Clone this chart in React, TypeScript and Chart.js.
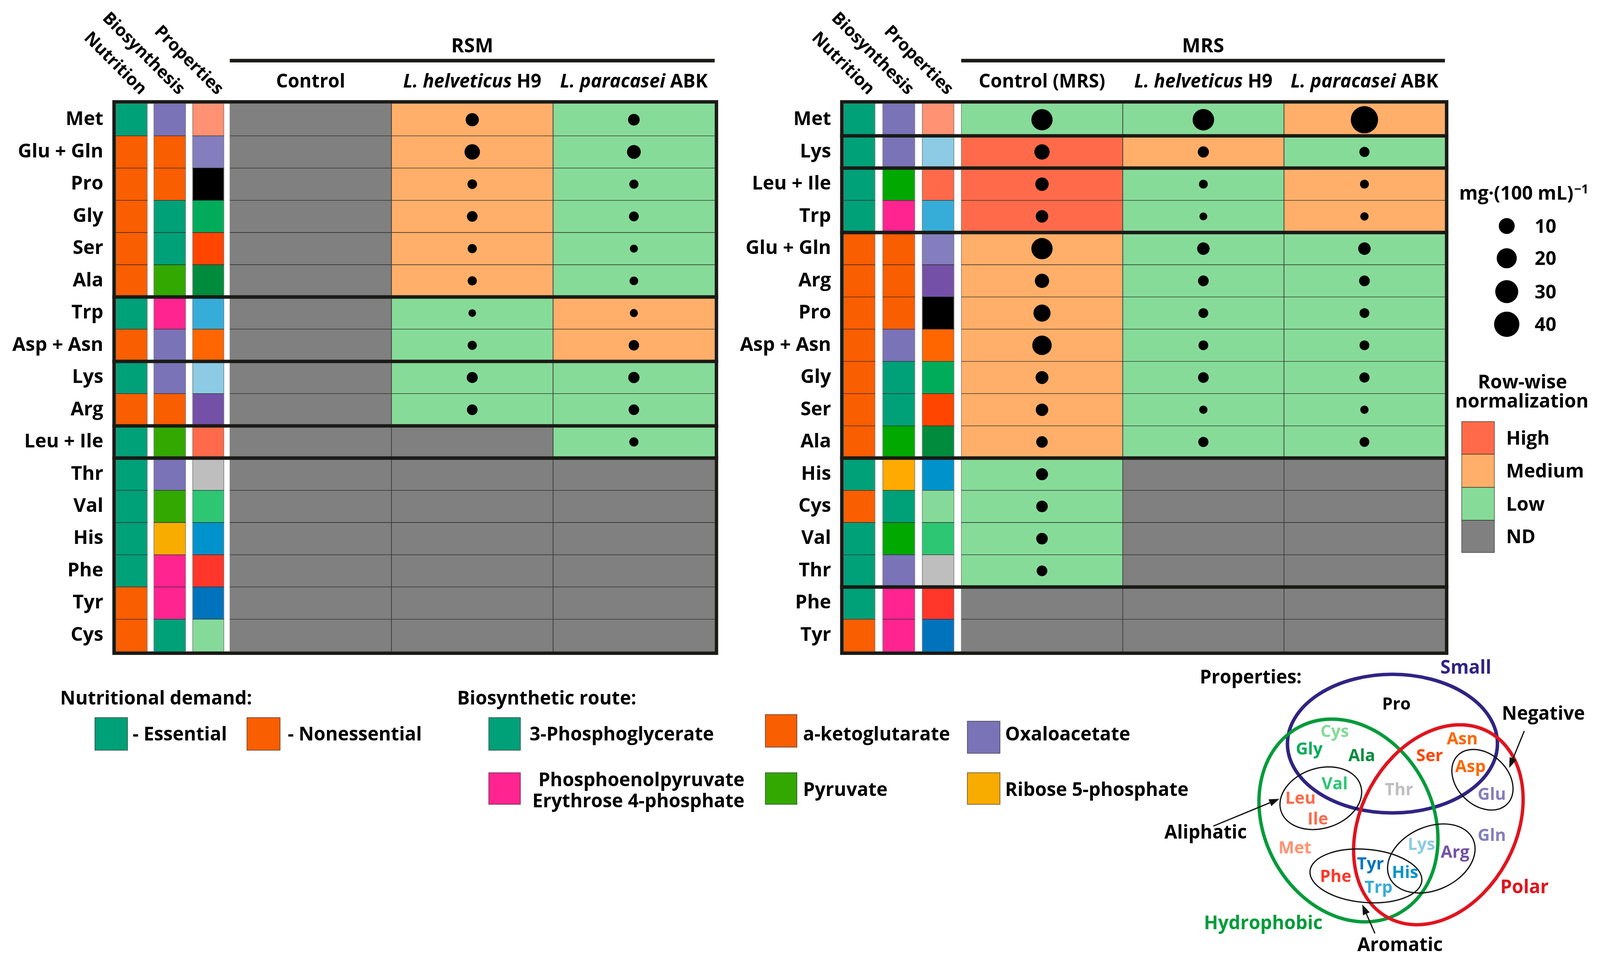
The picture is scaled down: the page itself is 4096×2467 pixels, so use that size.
import React, { useEffect, useRef } from 'react';
import { Chart, registerables } from 'chart.js';

Chart.register(...registerables);

const W = 4096;
const H = 2467;
const S = W / 1568; // px per layout unit
const FONT = '"Open Sans", "Noto Sans", "DejaVu Sans", sans-serif';
const u = (v: number) => v * S;

// ---------------- categories ----------------
const RSM_ROWS = ['Met', 'Glu + Gln', 'Pro', 'Gly', 'Ser', 'Ala', 'Trp', 'Asp + Asn', 'Lys', 'Arg', 'Leu + Ile', 'Thr', 'Val', 'His', 'Phe', 'Tyr', 'Cys'];
const MRS_ROWS = ['Met', 'Lys', 'Leu + Ile', 'Trp', 'Glu + Gln', 'Arg', 'Pro', 'Asp + Asn', 'Gly', 'Ser', 'Ala', 'His', 'Cys', 'Val', 'Thr', 'Phe', 'Tyr'];
const RSM_GROUP_STARTS = [6, 8, 10, 11];
const MRS_GROUP_STARTS = [1, 2, 4, 11, 15];
const ANNOTATION_TITLES = ['Nutrition', 'Biosynthesis', 'Properties'];
const RSM_COLUMN_TITLES = [['', 'Control'], ['L. helveticus ', 'H9'], ['L. paracasei ', 'ABK']];
const MRS_COLUMN_TITLES = [['', 'Control (MRS)'], ['L. helveticus ', 'H9'], ['L. paracasei ', 'ABK']];

// ---------------- series: row-wise normalization level ----------------
const RSM_CONTROL_LEVEL = ['ND', 'ND', 'ND', 'ND', 'ND', 'ND', 'ND', 'ND', 'ND', 'ND', 'ND', 'ND', 'ND', 'ND', 'ND', 'ND', 'ND'];
const RSM_H9_LEVEL = ['Medium', 'Medium', 'Medium', 'Medium', 'Medium', 'Medium', 'Low', 'Low', 'Low', 'Low', 'ND', 'ND', 'ND', 'ND', 'ND', 'ND', 'ND'];
const RSM_ABK_LEVEL = ['Low', 'Low', 'Low', 'Low', 'Low', 'Low', 'Medium', 'Medium', 'Low', 'Low', 'Low', 'ND', 'ND', 'ND', 'ND', 'ND', 'ND'];
const MRS_CONTROL_LEVEL = ['Low', 'High', 'High', 'High', 'Medium', 'Medium', 'Medium', 'Medium', 'Medium', 'Medium', 'Medium', 'Low', 'Low', 'Low', 'Low', 'ND', 'ND'];
const MRS_H9_LEVEL = ['Low', 'Medium', 'Low', 'Low', 'Low', 'Low', 'Low', 'Low', 'Low', 'Low', 'Low', 'ND', 'ND', 'ND', 'ND', 'ND', 'ND'];
const MRS_ABK_LEVEL = ['Medium', 'Low', 'Medium', 'Medium', 'Low', 'Low', 'Low', 'Low', 'Low', 'Low', 'Low', 'ND', 'ND', 'ND', 'ND', 'ND', 'ND'];

// ---------------- series: concentration, mg·(100 mL)^-1 ----------------
const RSM_CONTROL_MG = [null, null, null, null, null, null, null, null, null, null, null, null, null, null, null, null, null];
const RSM_H9_MG = [5.7, 9.1, 2.2, 3.0, 1.9, 1.9, 1.1, 1.9, 3.3, 3.0, null, null, null, null, null, null, null];
const RSM_ABK_MG = [3.9, 6.5, 1.9, 2.3, 1.3, 1.6, 1.3, 2.8, 3.5, 2.9, 1.9, null, null, null, null, null, null];
const MRS_CONTROL_MG = [23.7, 8.8, 5.9, 4.8, 23.7, 7.2, 12.3, 18.1, 5.3, 4.8, 3.8, 4.3, 3.8, 3.8, 3.0, null, null];
const MRS_H9_MG = [24.5, 3.4, 1.7, 1.2, 4.8, 3.0, 2.3, 2.3, 3.0, 1.4, 2.6, null, null, null, null, null, null];
const MRS_ABK_MG = [50.1, 2.6, 1.7, 1.4, 4.8, 3.0, 2.3, 2.3, 2.6, 1.4, 2.3, null, null, null, null, null, null];

// ---------------- annotations ----------------
const NUTRITION: Record<string, string> = {
  Met: 'E', 'Glu + Gln': 'N', Pro: 'N', Gly: 'N', Ser: 'N', Ala: 'N', Trp: 'E', 'Asp + Asn': 'N', Lys: 'E',
  Arg: 'N', 'Leu + Ile': 'E', Thr: 'E', Val: 'E', His: 'E', Phe: 'E', Tyr: 'N', Cys: 'N',
};
const BIOSYNTHESIS: Record<string, string> = {
  Met: 'oxa', 'Glu + Gln': 'akg', Pro: 'akg', Gly: '3pg', Ser: '3pg', Ala: 'pyr', Trp: 'pep', 'Asp + Asn': 'oxa',
  Lys: 'oxa', Arg: 'akg', 'Leu + Ile': 'pyr', Thr: 'oxa', Val: 'pyr', His: 'r5p', Phe: 'pep', Tyr: 'pep', Cys: '3pg',
};
const NUTRITION_LEGEND = [['E', '- Essential'], ['N', '- Nonessential']];
const ROUTE_LEGEND: [string, string[]][] = [
  ['3pg', ['3-Phosphoglycerate']], ['akg', ['a-ketoglutarate']], ['oxa', ['Oxaloacetate']],
  ['pep', ['Phosphoenolpyruvate', 'Erythrose 4-phosphate']], ['pyr', ['Pyruvate']], ['r5p', ['Ribose 5-phosphate']],
];
const SIZE_LEGEND = [10, 20, 30, 40];
const LEVEL_LEGEND = ['High', 'Medium', 'Low', 'ND'];

// ---------------- styles ----------------
const LEVEL_COLOR: Record<string, string> = { High: '#FF6B4A', Medium: '#FFAF69', Low: '#87DB98', ND: '#808080' };
const NUTRITION_COLOR: Record<string, string> = { E: '#00A078', N: '#F95E00' };
const ROUTE_COLOR: Record<string, string> = { '3pg': '#00A078', akg: '#F95E00', oxa: '#7A73B7', pep: '#FF2490', pyr: '#33A800', r5p: '#F8AC00' };
const ROUTE_COLOR_MRS: Record<string, string> = { ...ROUTE_COLOR, pyr: '#00A800', r5p: '#FFAA00' };
const AA_COLOR: Record<string, string> = {
  Met: '#FF9272', Glu: '#847EBE', Gln: '#847EBE', Pro: '#000000', Gly: '#00AC5A', Ser: '#FF4500', Ala: '#008C3C',
  Trp: '#36ADD9', Asp: '#FF6600', Asn: '#FF6600', Lys: '#8CCBE3', Arg: '#7451A6', Leu: '#FF6A4A', Ile: '#FF6A4A',
  Thr: '#BEBEBE', Val: '#2DC774', His: '#0093CB', Phe: '#FF3629', Tyr: '#0073BD', Cys: '#86DA99',
};
const FRAME = '#1A1A16';
const NAVY = '#2F2483';
const GREEN = '#009B3A';
const RED = '#E0141E';
const rOf = (v: number) => 20.4 * Math.cbrt(v / 10);

// ---------------- layout (reference units) ----------------
const BOX_TOP = 101.5;
const BOX_BOTTOM = 638.2;
const LEFT_COLS = [[113.5, 144.4], [150.7, 182.0], [188.7, 219.5], [225.2, 383.6], [383.6, 542.0], [542.0, 700.4]];
const RIGHT_COLS = [[826.7, 857.6], [865.0, 896.6], [903.7, 935.0], [942.0, 1100.3], [1100.3, 1258.3], [1258.3, 1416.0]];

const PANELS = [
  {
    title: 'RSM', rows: RSM_ROWS, breaks: RSM_GROUP_STARTS, headers: RSM_COLUMN_TITLES, cols: LEFT_COLS, routeColor: ROUTE_COLOR,
    levels: [RSM_CONTROL_LEVEL, RSM_H9_LEVEL, RSM_ABK_LEVEL], values: [RSM_CONTROL_MG, RSM_H9_MG, RSM_ABK_MG],
  },
  {
    title: 'MRS', rows: MRS_ROWS, breaks: MRS_GROUP_STARTS, headers: MRS_COLUMN_TITLES, cols: RIGHT_COLS, routeColor: ROUTE_COLOR_MRS,
    levels: [MRS_CONTROL_LEVEL, MRS_H9_LEVEL, MRS_ABK_LEVEL], values: [MRS_CONTROL_MG, MRS_H9_MG, MRS_ABK_MG],
  },
];

const VENN_SETS = [
  { cx: 1364.6, cy: 728.5, rx: 102.9, ry: 67.9, rot: 0, color: NAVY, lw: 3.4 },
  { cx: 1321.5, cy: 803.8, rx: 82.7, ry: 103.5, rot: -28, color: GREEN, lw: 3.3 },
  { cx: 1409.6, cy: 808.0, rx: 76.0, ry: 103.5, rot: 28.5, color: RED, lw: 3.3 },
  { cx: 1294.4, cy: 782.0, rx: 41.0, ry: 29.4, rot: -18, color: '#111', lw: 1.2 },
  { cx: 1452.8, cy: 763.9, rx: 34.0, ry: 25.0, rot: 44, color: '#111', lw: 1.2 },
  { cx: 1338.6, cy: 858.1, rx: 55.0, ry: 26.0, rot: 5, color: '#111', lw: 1.2 },
  { cx: 1402.7, cy: 841.0, rx: 45.0, ry: 31.0, rot: -24.6, color: '#111', lw: 1.2 },
];
const VENN_ARROWS = [
  [[1493.8, 716.1], [1479.0, 752.3]],
  [[1189.0, 809.3], [1253.8, 782.6]],
  [[1347.4, 914.4], [1335.0, 886.0]],
];
const VENN_LABELS: any[] = [
  { t: 'Properties:', x: 1175.8, y: 669.7, c: '#000', cat: true, a: 'left' },
  { t: 'Small', x: 1436.5, y: 659.8, c: NAVY, cat: true },
  { t: 'Pro', x: 1368.5, y: 695.1 },
  { t: 'Negative', x: 1512.5, y: 705.2, c: '#000', cat: true },
  { t: 'Cys', x: 1308, y: 722.1 },
  { t: 'Gly', x: 1283, y: 739.3 },
  { t: 'Ala', x: 1334.5, y: 745.6 },
  { t: 'Ser', x: 1401, y: 745.6 },
  { t: 'Asn', x: 1433, y: 729.4 },
  { t: 'Asp', x: 1441, y: 756.4 },
  { t: 'Glu', x: 1462, y: 783.8 },
  { t: 'Val', x: 1308, y: 773.3 },
  { t: 'Thr', x: 1371, y: 779.0 },
  { t: 'Leu', x: 1274.5, y: 787.6 },
  { t: 'Ile', x: 1291.5, y: 807.6 },
  { t: 'Aliphatic', x: 1181.5, y: 821.7, c: '#000', cat: true },
  { t: 'Met', x: 1269, y: 836.2 },
  { t: 'Gln', x: 1462, y: 823.8 },
  { t: 'Lys', x: 1393, y: 832.7 },
  { t: 'Arg', x: 1426, y: 840.3 },
  { t: 'Tyr', x: 1343, y: 851.8 },
  { t: 'His', x: 1377, y: 860.0 },
  { t: 'Phe', x: 1309, y: 863.9 },
  { t: 'Trp', x: 1351, y: 874.6 },
  { t: 'Polar', x: 1494, y: 875.3, c: RED, cat: true },
  { t: 'Hydrophobic', x: 1238, y: 910.2, c: GREEN, cat: true },
  { t: 'Aromatic', x: 1372, y: 931.6, c: '#000', cat: true },
];

// ---------------- drawing helpers ----------------
const fontStr = (size: number, italic = false) => `${italic ? 'italic ' : ''}bold ${size}px ${FONT}`;
function text(ctx: CanvasRenderingContext2D, s: string, x: number, y: number, size: number, align: CanvasTextAlign = 'left', color = '#000', italic = false) {
  ctx.font = fontStr(size, italic);
  ctx.fillStyle = color;
  ctx.textAlign = align;
  ctx.textBaseline = 'alphabetic';
  ctx.fillText(s, x, y);
}
function swatch(ctx: CanvasRenderingContext2D, x0: number, y0: number, x1: number, y1: number, color: string) {
  ctx.fillStyle = color;
  ctx.fillRect(u(x0), u(y0), u(x1 - x0), u(y1 - y0));
  ctx.strokeStyle = 'rgba(30,30,30,0.75)';
  ctx.lineWidth = 1.5;
  ctx.strokeRect(u(x0), u(y0), u(x1 - x0), u(y1 - y0));
}

function drawGrid(chart: any, p: any) {
  const { ctx, chartArea, scales: { x, y } } = chart;
  const n = p.rows.length;
  ctx.save();
  const vline = (xx: number) => { ctx.beginPath(); ctx.moveTo(xx, chartArea.top); ctx.lineTo(xx, chartArea.bottom); ctx.stroke(); };
  ctx.strokeStyle = '#808080';
  ctx.lineWidth = 1.5;
  for (let c = 0; c < 3; c++) { vline(x.getPixelForValue(p.cols[c][0]) + 0.5); vline(x.getPixelForValue(p.cols[c][1]) - 0.5); }
  vline(x.getPixelForValue(p.cols[3][0]) + 0.5);
  ctx.strokeStyle = '#262626';
  ctx.lineWidth = 1.3;
  for (let k = 1; k < n; k++) {
    const yy = y.getPixelForValue(k - 0.5);
    p.cols.forEach(([a, b]: number[]) => {
      ctx.beginPath(); ctx.moveTo(x.getPixelForValue(a), yy); ctx.lineTo(x.getPixelForValue(b), yy); ctx.stroke();
    });
  }
  ctx.strokeStyle = '#404040';
  ctx.lineWidth = 2;
  [4, 5].forEach((c) => vline(x.getPixelForValue(p.cols[c][0])));
  ctx.restore();
}

function drawFrame(chart: any, p: any) {
  const { ctx, chartArea: { left, right, top, bottom }, scales: { y } } = chart;
  const lw = u(3.4);
  ctx.save();
  ctx.strokeStyle = FRAME;
  ctx.lineWidth = lw;
  p.breaks.forEach((k: number) => {
    const yy = y.getPixelForValue(k - 0.5);
    ctx.beginPath(); ctx.moveTo(left - lw, yy); ctx.lineTo(right + lw, yy); ctx.stroke();
  });
  ctx.strokeRect(left - lw / 2, top - lw / 2, right - left + lw, bottom - top + lw);
  ctx.restore();
}

function drawHeaders(chart: any, p: any) {
  const { ctx, scales: { x } } = chart;
  const cols = p.cols;
  ctx.save();
  ANNOTATION_TITLES.forEach((t, i) => {
    const cx = x.getPixelForValue((cols[i][0] + cols[i][1]) / 2) + u(11.7);
    ctx.save();
    ctx.translate(cx, u(90.2));
    ctx.rotate(Math.PI / 4);
    ctx.font = fontStr(44);
    ctx.fillStyle = '#000';
    ctx.textAlign = 'right';
    ctx.textBaseline = 'middle';
    ctx.fillText(t, 0, 0);
    ctx.restore();
  });
  const dx0 = x.getPixelForValue(cols[3][0]);
  const dx1 = x.getPixelForValue(cols[5][1]);
  text(ctx, p.title, (dx0 + dx1) / 2, u(51.4), 50, 'center');
  ctx.fillStyle = FRAME;
  ctx.fillRect(dx0, u(59.4) - u(1.75), dx1 - dx0, u(3.5));
  p.headers.forEach(([it, rg]: string[], k: number) => {
    const c = cols[3 + k];
    const cx = x.getPixelForValue((c[0] + c[1]) / 2);
    ctx.font = fontStr(47.5, true);
    const w1 = it ? ctx.measureText(it).width : 0;
    ctx.font = fontStr(47.5);
    const w2 = ctx.measureText(rg).width;
    const x0 = cx - (w1 + w2) / 2;
    if (it) text(ctx, it, x0, u(85.7), 47.5, 'left', '#000', true);
    text(ctx, rg, x0 + w1, u(85.7), 47.5, 'left');
  });
  ctx.restore();
}

function drawBottomLegend(chart: any) {
  const ctx = chart.ctx;
  ctx.save();
  text(ctx, 'Nutritional demand:', u(59), u(690.2), 48);
  const nutBoxes = [[93, 703, 125, 735, 130], [242, 703, 274.5, 735, 282]];
  NUTRITION_LEGEND.forEach(([k, label], i) => {
    const b = nutBoxes[i];
    swatch(ctx, b[0], b[1], b[2], b[3], NUTRITION_COLOR[k]);
    text(ctx, label, u(b[4]), u(725.3), 48);
  });
  text(ctx, 'Biosynthetic route:', u(448), u(690.2), 48);
  const routeBoxes: any[] = [
    { b: [479, 703, 510, 735], tx: 519, ty: [725.3], a: 'left' },
    { b: [750, 700, 781, 732], tx: 787, ty: [725.3], a: 'left' },
    { b: [948, 706.5, 980, 738], tx: 985, ty: [725.3], a: 'left' },
    { b: [479, 757, 510, 788], tx: 729.6, ty: [770.2, 790.9], a: 'right' },
    { b: [750, 757, 781, 788], tx: 787, ty: [779.7], a: 'left' },
    { b: [948, 757, 980, 788], tx: 985, ty: [779.7], a: 'left' },
  ];
  ROUTE_LEGEND.forEach(([k, lines], i) => {
    const r = routeBoxes[i];
    swatch(ctx, r.b[0], r.b[1], r.b[2], r.b[3], ROUTE_COLOR[k]);
    lines.forEach((ln, j) => text(ctx, ln, u(r.tx), u(r.ty[j]), 48, r.a));
  });
  ctx.restore();
}

function drawRightLegend(chart: any) {
  const ctx = chart.ctx;
  ctx.save();
  text(ctx, 'mg·(100 mL)', u(1430), u(195.5), 48.5);
  ctx.font = fontStr(48.5);
  const mw = ctx.measureText('mg·(100 mL)').width;
  text(ctx, '−1', u(1430) + mw + 2, u(189.4), 32);
  const sizeY = [221.4, 253.0, 285.7, 317.7];
  SIZE_LEGEND.forEach((v, i) => {
    ctx.beginPath();
    ctx.arc(u(1476.6), u(sizeY[i]), rOf(v), 0, Math.PI * 2);
    ctx.fillStyle = '#000';
    ctx.fill();
    text(ctx, String(v), u(1504), u(sizeY[i] + 6.6), 48.5);
  });
  text(ctx, 'Row-wise', u(1492), u(380.7), 48.5, 'center');
  text(ctx, 'normalization', u(1491.5), u(399.1), 48.5, 'center');
  const lvY = [[413, 445], [445, 477.5], [477.5, 509.7], [509.7, 541.3]];
  LEVEL_LEGEND.forEach((lv, i) => {
    swatch(ctx, 1432.5, lvY[i][0], 1464.5, lvY[i][1], LEVEL_COLOR[lv]);
    text(ctx, lv, u(1476), u((lvY[i][0] + lvY[i][1]) / 2 + 6.6), 48.5);
  });
  ctx.restore();
}

function heatmapConfig(p: any, extra: (c: any) => void): any {
  const cols = p.cols;
  const fills = [
    p.rows.map((r: string) => NUTRITION_COLOR[NUTRITION[r]]),
    p.rows.map((r: string) => p.routeColor[BIOSYNTHESIS[r]]),
    p.rows.map((r: string) => AA_COLOR[r.split(' + ')[0]]),
    ...p.levels.map((ls: string[]) => ls.map((l) => LEVEL_COLOR[l])),
  ];
  const datasets: any[] = fills.map((colors: string[], c: number) => ({
    type: 'bar',
    label: 'col' + c,
    data: p.rows.map(() => [cols[c][0], cols[c][1]]),
    backgroundColor: colors,
    borderWidth: 0,
    grouped: false,
    barPercentage: 1,
    categoryPercentage: 1,
    order: 1,
  }));
  const dots: any[] = [];
  p.values.forEach((vals: (number | null)[], k: number) => {
    const c = cols[3 + k];
    vals.forEach((v, i) => { if (v != null) dots.push({ x: (c[0] + c[1]) / 2, y: p.rows[i], v }); });
  });
  datasets.push({
    type: 'bubble',
    label: 'mg',
    data: dots,
    backgroundColor: '#000',
    borderWidth: 0,
    radius: (ctx: any) => rOf(ctx.raw ? ctx.raw.v : 0),
    hoverRadius: 0,
    order: 0,
  });
  const plugin = {
    id: 'panel' + p.title,
    beforeDatasetDraw(chart: any, args: any) { if (args.index === 6) drawGrid(chart, p); },
    afterDatasetsDraw(chart: any) { drawFrame(chart, p); },
    afterDraw(chart: any) { drawHeaders(chart, p); extra(chart); },
  };
  return {
    type: 'bar',
    data: { labels: p.rows, datasets },
    options: {
      animation: false,
      responsive: false,
      maintainAspectRatio: false,
      devicePixelRatio: 1,
      indexAxis: 'y',
      events: [],
      layout: { padding: { left: 0, top: u(BOX_TOP), right: W - u(cols[5][1]), bottom: H - u(BOX_BOTTOM) } },
      scales: {
        x: { type: 'linear', min: cols[0][0], max: cols[5][1], bounds: 'data', display: false },
        y: {
          type: 'category',
          offset: true,
          grid: { display: false, drawTicks: false },
          border: { display: false },
          ticks: { autoSkip: false, color: '#000', padding: 32, font: { family: FONT, size: 49, weight: 'bold' } },
          afterFit: (scale: any) => { scale.width = u(cols[0][0]); },
        },
      },
      plugins: { legend: { display: false }, tooltip: { enabled: false } },
    },
    plugins: [plugin],
  };
}

function vennConfig(): any {
  const plugin = {
    id: 'venn',
    afterDatasetsDraw(chart: any) {
      const { ctx, scales: { x, y } } = chart;
      const px = (v: number) => x.getPixelForValue(v);
      const py = (v: number) => y.getPixelForValue(v);
      const k = px(1) - px(0);
      ctx.save();
      VENN_SETS.forEach((e) => {
        ctx.beginPath();
        ctx.ellipse(px(e.cx), py(e.cy), e.rx * k, e.ry * k, (e.rot * Math.PI) / 180, 0, Math.PI * 2);
        ctx.strokeStyle = e.color;
        ctx.lineWidth = e.lw * k;
        ctx.stroke();
      });
      VENN_ARROWS.forEach(([a, b]) => {
        const x0 = px(a[0]), y0 = py(a[1]), x1 = px(b[0]), y1 = py(b[1]);
        const ang = Math.atan2(y1 - y0, x1 - x0);
        const hl = 10 * k, hw = 3.6 * k;
        const bx = x1 - Math.cos(ang) * hl, by = y1 - Math.sin(ang) * hl;
        ctx.strokeStyle = '#111';
        ctx.lineWidth = 1.2 * k;
        ctx.beginPath(); ctx.moveTo(x0, y0); ctx.lineTo(bx, by); ctx.stroke();
        ctx.fillStyle = '#111';
        ctx.beginPath();
        ctx.moveTo(x1, y1);
        ctx.lineTo(bx + Math.sin(ang) * hw, by - Math.cos(ang) * hw);
        ctx.lineTo(bx - Math.sin(ang) * hw, by + Math.cos(ang) * hw);
        ctx.closePath();
        ctx.fill();
      });
      VENN_LABELS.forEach((l) => {
        const color = l.c || AA_COLOR[l.t] || '#000';
        text(ctx, l.t, px(l.x), py(l.y), l.cat ? 47.5 : 43, l.a || 'center', color);
      });
      ctx.restore();
    },
  };
  return {
    type: 'scatter',
    data: { datasets: [{ data: VENN_LABELS.map((l) => ({ x: l.x, y: l.y })), pointRadius: 0 }] },
    options: {
      animation: false,
      responsive: false,
      maintainAspectRatio: false,
      devicePixelRatio: 1,
      events: [],
      layout: { padding: { left: u(1120), top: u(640), right: Math.max(0, W - u(1568)), bottom: Math.max(0, H - u(944)) } },
      scales: {
        x: { type: 'linear', min: 1120, max: 1568, bounds: 'data', display: false },
        y: { type: 'linear', min: 640, max: 944, bounds: 'data', reverse: true, display: false },
      },
      plugins: { legend: { display: false }, tooltip: { enabled: false } },
    },
    plugins: [plugin],
  };
}

export default function App() {
  const leftRef = useRef<HTMLCanvasElement>(null);
  const rightRef = useRef<HTMLCanvasElement>(null);
  const vennRef = useRef<HTMLCanvasElement>(null);
  useEffect(() => {
    const charts = [
      new Chart(leftRef.current as HTMLCanvasElement, heatmapConfig(PANELS[0], drawBottomLegend)),
      new Chart(rightRef.current as HTMLCanvasElement, heatmapConfig(PANELS[1], drawRightLegend)),
      new Chart(vennRef.current as HTMLCanvasElement, vennConfig()),
    ];
    let alive = true;
    if ((document as any).fonts && (document as any).fonts.ready) {
      (document as any).fonts.ready.then(() => { if (alive) charts.forEach((c) => c.update()); });
    }
    return () => { alive = false; charts.forEach((c) => c.destroy()); };
  }, []);
  const cs: React.CSSProperties = { position: 'absolute', left: 0, top: 0, width: W, height: H };
  return (
    <div style={{ position: 'fixed', left: 0, top: 0, width: W, height: H, background: '#fff', overflow: 'hidden' }}>
      <canvas ref={leftRef} width={W} height={H} style={cs} />
      <canvas ref={rightRef} width={W} height={H} style={cs} />
      <canvas ref={vennRef} width={W} height={H} style={cs} />
    </div>
  );
}
